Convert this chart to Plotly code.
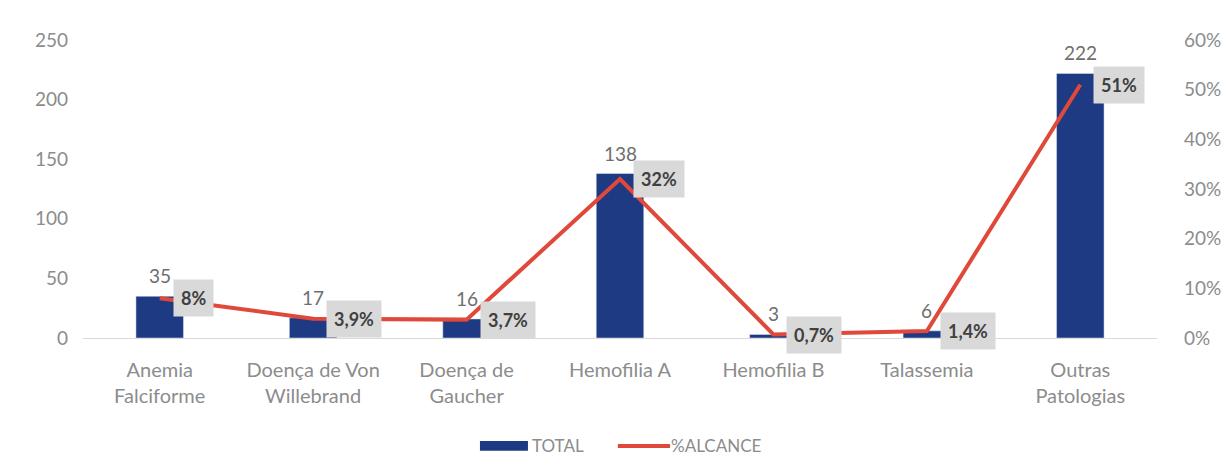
import plotly.graph_objects as go

categories = ["Anemia<br>Falciforme", "Doença de Von<br>Willebrand", "Doença de<br>Gaucher",
              "Hemofilia A", "Hemofilia B", "Talassemia", "Outras<br>Patologias"]
total = [35, 17, 16, 138, 3, 6, 222]
alcance = [0.08, 0.039, 0.037, 0.32, 0.007, 0.014, 0.51]
alcance_labels = ["8%", "3,9%", "3,7%", "32%", "0,7%", "1,4%", "51%"]
series_names = ["TOTAL", "%ALCANCE"]

bar_color = "#1E3A82"
line_color = "#E0483A"
font = "Lato, 'Open Sans', sans-serif"
tick_color = "#8C8C8C"

fig = go.Figure()
fig.add_trace(go.Bar(
    x=categories, y=total, name=series_names[0], marker_color=bar_color, width=0.31,
    showlegend=False,
))
fig.add_trace(go.Scatter(
    x=categories, y=alcance, name=series_names[1], mode="lines", yaxis="y2",
    line=dict(color=line_color, width=4), showlegend=False,
))

for c, v in zip(categories, total):
    fig.add_annotation(
        x=c, y=v, text=str(v), showarrow=False, yanchor="bottom", yshift=7,
        font=dict(size=19, color="#6E6E6E", family=font),
    )

for c, v, lab in zip(categories, alcance, alcance_labels):
    fig.add_annotation(
        x=c, y=v, yref="y2", text="<b>" + lab + "</b>", showarrow=False,
        xanchor="left", yanchor="middle", xshift=13,
        bgcolor="#D9D9D9", borderpad=7,
        font=dict(size=18, color="#404040", family=font),
    )

# custom legend (bottom centre)
ly = -0.362
fig.add_shape(type="rect", xref="paper", yref="paper", x0=0.3696, x1=0.4143, y0=ly - 0.016, y1=ly + 0.016,
              fillcolor=bar_color, line=dict(width=0))
fig.add_annotation(xref="paper", yref="paper", x=0.416, y=ly, text=series_names[0],
                   showarrow=False, xanchor="left", yanchor="middle",
                   font=dict(size=17, color=tick_color, family=font))
fig.add_shape(type="line", xref="paper", yref="paper", x0=0.498, x1=0.5466, y0=ly, y1=ly,
              line=dict(color=line_color, width=4))
fig.add_annotation(xref="paper", yref="paper", x=0.546, y=ly, text=series_names[1],
                   showarrow=False, xanchor="left", yanchor="middle",
                   font=dict(size=17, color=tick_color, family=font))

fig.update_layout(
    width=1231, height=476,
    paper_bgcolor="white", plot_bgcolor="white",
    margin=dict(l=75, r=82, t=32, b=146),
    font=dict(family=font, color=tick_color, size=19),
    bargap=0.69,
    showlegend=False,
    xaxis=dict(showgrid=False, showline=True, linecolor="#D9D9D9", linewidth=1,
               ticks="", tickfont=dict(size=20, color=tick_color), ticklabelstandoff=14),
    yaxis=dict(range=[0, 250], dtick=50, showgrid=False, zeroline=False,
               tickfont=dict(size=19, color=tick_color), ticks="", ticklabelstandoff=14),
    yaxis2=dict(range=[0, 0.6], dtick=0.1, tickformat=".0%", overlaying="y", side="right",
                showgrid=False, zeroline=False, tickfont=dict(size=19, color=tick_color),
                ticks="", ticklabelstandoff=26),
)

fig.write_html("out.html")
